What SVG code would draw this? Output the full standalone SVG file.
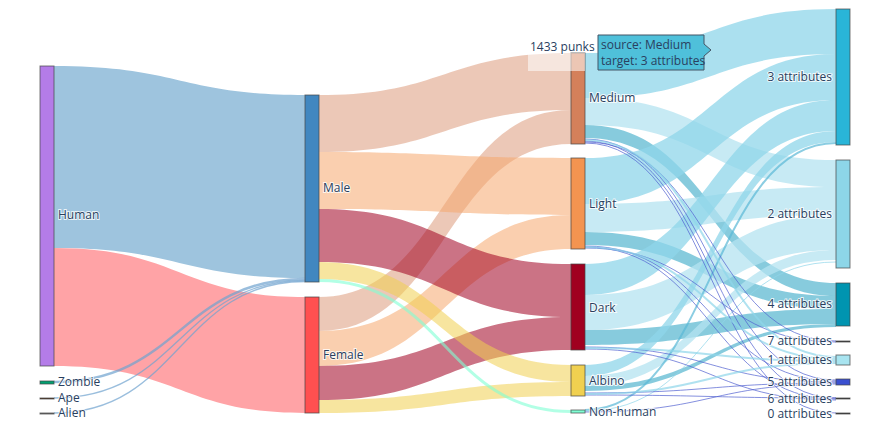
<svg xmlns="http://www.w3.org/2000/svg" width="870" height="438" viewBox="0 0 870 438">
<style>
text{font-family:"Open Sans","Liberation Sans",sans-serif;font-size:12px;fill:#2a3f5f;paint-order:stroke;stroke:#fff;stroke-width:2px;stroke-opacity:.8}
.n{stroke:#444;stroke-width:1;stroke-opacity:.7}
.a3{fill:#8fd6ea;fill-opacity:.75}
.a2{fill:#b4e3f0;fill-opacity:.75}
.a4{fill:#5fb9d2;fill-opacity:.75}
.th{fill:none;stroke-width:1;stroke-opacity:.7}
</style>
<rect width="870" height="438" fill="#fff"/>
<g id="links">
<path d="M54 66C180 66 180 95 305 95L305 278C180 278 180 248 54 248Z" fill="#9ec4de"/>
<path d="M54 248C180 248 180 297 305 297L305 413C180 413 180 366 54 366Z" fill="#ffa3a6"/>
<path d="M54 382C180 382 180 279 305 279" class="th" stroke="#6fa2cf" style="stroke-width:2.5"/>
<path d="M54 398C180 398 180 280.5 305 280.5" class="th" stroke="#6fa2cf" style="stroke-width:1.3"/>
<path d="M54 413C180 413 180 281.5 305 281.5" class="th" stroke="#6fa2cf" style="stroke-width:1.3"/>
<g fill-opacity=".55">
<path d="M319 95C445 95 445 53 571 53L571 110C445 110 445 152 319 152Z" fill="#dc9b7b"/>
<path d="M319 297C445 297 445 110 571 110L571 144C445 144 445 331 319 331Z" fill="#dc9b7b"/>
<path d="M319 152C445 152 445 158 571 158L571 215C445 215 445 209 319 209Z" fill="#f5a86e"/>
<path d="M319 331C445 331 445 215 571 215L571 249C445 249 445 366 319 366Z" fill="#f5a86e"/>
<path d="M319 209C445 209 445 264 571 264L571 317C445 317 445 262 319 262Z" fill="#a00020"/>
<path d="M319 366C445 366 445 317 571 317L571 350C445 350 445 400 319 400Z" fill="#a00020"/>
<path d="M319 262C445 262 445 365 571 365L571 382C445 382 445 279 319 279Z" fill="#f0d050"/>
<path d="M319 400C445 400 445 382 571 382L571 396C445 396 445 413 319 413Z" fill="#f0d050"/>
</g>
<path d="M319 280.5C445 280.5 445 411.5 571 411.5" class="th" stroke="#7fffd4" style="stroke-width:3;stroke-opacity:.6"/>
<path class="a3" d="M585 53C711 53 711 9 836 9L836 54C711 54 711 98 585 98Z"/>
<path class="a2" d="M585 98C711 98 711 160 836 160L836 187C711 187 711 125 585 125Z"/>
<path class="a4" d="M585 125C711 125 711 283 836 283L836 296C711 296 711 138 585 138Z"/>
<path class="a3" d="M585 158C711 158 711 54 836 54L836 100C711 100 711 204 585 204Z"/>
<path class="a2" d="M585 204C711 204 711 187 836 187L836 215C711 215 711 232 585 232Z"/>
<path class="a4" d="M585 232C711 232 711 296 836 296L836 309C711 309 711 245 585 245Z"/>
<path class="a3" d="M585 264C711 264 711 100 836 100L836 131C711 131 711 295 585 295Z"/>
<path class="a2" d="M585 295C711 295 711 215 836 215L836 250C711 250 711 330 585 330Z"/>
<path class="a4" d="M585 330C711 330 711 309 836 309L836 324C711 324 711 345 585 345Z"/>
<path class="a3" d="M585 365C711 365 711 131 836 131L836 142C711 142 711 376 585 376Z"/>
<path class="a2" d="M585 376C711 376 711 250 836 250L836 260C711 260 711 386 585 386Z"/>
<path class="a4" d="M585 386C711 386 711 324 836 324L836 327C711 327 711 391 585 391Z"/>
<path class="th" stroke="#5ab8d6" style="stroke-width:2" d="M585 410C711 410 711 143 836 143"/>
<path class="th" stroke="#8fd6ea" d="M585 411C711 411 711 262 836 262"/>
<g class="th" stroke="#5060d0">
<path d="M585 139C711 139 711 380 836 380"/><path d="M585 141C711 141 711 398 836 398"/><path d="M585 142C711 142 711 341 836 341"/><path d="M585 143C711 143 711 413 836 413"/>
<path d="M585 246C711 246 711 381 836 381"/><path d="M585 247C711 247 711 399 836 399"/><path d="M585 248C711 248 711 342 836 342"/>
<path d="M585 347C711 347 711 382 836 382"/><path d="M585 349C711 349 711 400 836 400"/>
<path d="M585 393C711 393 711 383 836 383"/><path d="M585 395C711 395 711 398 836 398"/>
<path d="M585 412C711 412 711 384 836 384"/>
</g>
<g class="th" stroke="#8fd6ea" style="stroke-width:2">
<path d="M585 140C711 140 711 357 836 357"/><path d="M585 247C711 247 711 359 836 359"/><path d="M585 348C711 348 711 361 836 361"/><path d="M585 394C711 394 711 363 836 363"/>
</g>
</g>
<g id="human"><rect class="n" x="40" y="66" width="14" height="300" fill="#b47ce8"/><text x="58" y="219">Human</text></g>
<g id="zombie"><rect class="n" x="40" y="381" width="14" height="3" fill="#00a070"/><text x="58" y="386">Zombie</text></g>
<g id="ape"><rect class="n" x="40" y="398" width="14" height="1" fill="#5a2d0c"/><text x="58" y="402">Ape</text></g>
<g id="alien"><rect class="n" x="40" y="413" width="14" height="1" fill="#888"/><text x="58" y="417">Alien</text></g>
<g id="male"><rect class="n" x="305" y="95" width="14" height="187" fill="#4187c0"/><text x="323" y="192">Male</text></g>
<g id="female"><rect class="n" x="305" y="297" width="14" height="116" fill="#ff5050"/><text x="323" y="359">Female</text></g>
<g id="medium"><rect class="n" x="571" y="53" width="14" height="91" fill="#d4805a"/><text x="589" y="102">Medium</text></g>
<g id="light"><rect class="n" x="571" y="158" width="14" height="91" fill="#f39450"/><text x="589" y="208">Light</text></g>
<g id="dark"><rect class="n" x="571" y="264" width="14" height="86" fill="#a00020"/><text x="589" y="312">Dark</text></g>
<g id="albino"><rect class="n" x="571" y="365" width="14" height="31" fill="#f0d050"/><text x="589" y="385">Albino</text></g>
<g id="nonhuman"><rect class="n" x="571" y="410" width="14" height="3" fill="#7fffd4"/><text x="589" y="416">Non-human</text></g>
<g id="a3"><rect class="n" x="836" y="9" width="14" height="136" fill="#29b5d8"/><text x="832" y="81" text-anchor="end">3 attributes</text></g>
<g id="a2"><rect class="n" x="836" y="160" width="14" height="108" fill="#8dd6e8"/><text x="832" y="218" text-anchor="end">2 attributes</text></g>
<g id="a4"><rect class="n" x="836" y="283" width="14" height="43" fill="#0094b0"/><text x="832" y="308" text-anchor="end">4 attributes</text></g>
<g id="a7"><rect class="n" x="836" y="341" width="14" height="1" fill="#333"/><text x="832" y="345" text-anchor="end">7 attributes</text></g>
<g id="a1"><rect class="n" x="836" y="355" width="14" height="10" fill="#a8e4f0"/><text x="832" y="364" text-anchor="end">1 attributes</text></g>
<g id="a5"><rect class="n" x="836" y="379" width="14" height="6" fill="#3a50d0"/><text x="832" y="386" text-anchor="end">5 attributes</text></g>
<g id="a6"><rect class="n" x="836" y="398" width="14" height="1" fill="#333"/><text x="832" y="403" text-anchor="end">6 attributes</text></g>
<g id="a0"><rect class="n" x="836" y="413" width="14" height="1" fill="#333"/><text x="832" y="418" text-anchor="end">0 attributes</text></g>
<g id="hover">
<rect x="528" y="53" width="57" height="18" fill="#fff" fill-opacity=".55"/>
<text x="530" y="51">1433 punks</text>
<path d="M598 35H704V44L711 50L704 56V70H598Z" fill="#4fc0da" stroke="#456" stroke-width="1"/>
<text x="601" y="49" style="stroke:none">source: Medium</text>
<text x="601" y="65" style="stroke:none">target: 3 attributes</text>
</g>
</svg>
